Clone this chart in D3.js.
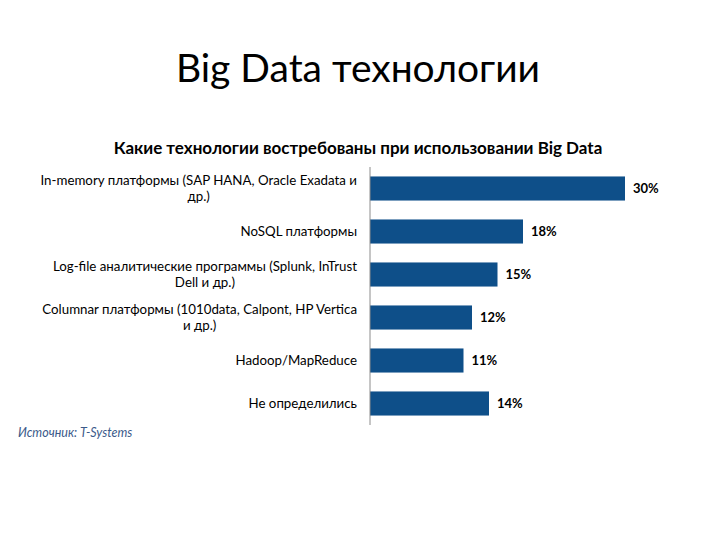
<!DOCTYPE html>
<html>
<head>
<meta charset="utf-8">
<script src="https://cdn.jsdelivr.net/npm/d3@7"></script>
<style>
  body { margin: 0; background: #fff; }
  svg { display: block; }
</style>
</head>
<body>
<svg id="drawing_region"></svg>
<script>
// data
const categories = [
    'In-memory платформы (SAP HANA, Oracle Exadata и\nдр.)',
    'NoSQL платформы',
    'Log-file аналитические программы (Splunk, InTrust\nDell и др.)',
    'Columnar платформы (1010data, Calpont, HP Vertica\nи др.)',
    'Hadoop/MapReduce',
    'Не определились'
];
const values = [30, 18, 15, 12, 11, 14];
const pageTitle = 'Big Data технологии';
const chartTitle = 'Какие технологии востребованы при использовании Big Data';
const sourceNote = 'Источник: T-Systems';

const config = {
    width: 720,
    height: 540,
    axisX: 370,
    top: 167,
    bottom: 425,
    pxPerUnit: 8.5,
    barColor: '#0e4f89',
    font: 'Lato, "Open Sans", "Noto Sans", sans-serif'
};

const svg = d3.select('#drawing_region')
    .attr('width', config.width)
    .attr('height', config.height)
    .style('font-family', config.font);

const xscale = d3.scaleLinear()
    .domain([0, 1])
    .range([config.axisX, config.axisX + config.pxPerUnit]);

const yscale = d3.scaleBand()
    .domain(categories)
    .range([config.top, config.bottom])
    .paddingInner(0.44)
    .paddingOuter(0.22);

// page title
svg.append('text')
    .attr('x', 358)
    .attr('y', 82)
    .attr('text-anchor', 'middle')
    .attr('font-size', '39px')
    .attr('fill', '#000')
    .text(pageTitle);

// chart title
svg.append('text')
    .attr('x', 358)
    .attr('y', 154)
    .attr('text-anchor', 'middle')
    .attr('font-size', '17px')
    .attr('font-weight', 'bold')
    .attr('fill', '#000')
    .text(chartTitle);

// bars
svg.append('g').selectAll('rect')
    .data(values)
    .join('rect')
    .attr('x', xscale(0))
    .attr('y', (d, i) => yscale(categories[i]))
    .attr('width', d => xscale(d) - xscale(0))
    .attr('height', yscale.bandwidth())
    .attr('fill', config.barColor);

// value labels
svg.append('g').selectAll('text')
    .data(values)
    .join('text')
    .attr('x', d => xscale(d) + 8)
    .attr('y', (d, i) => yscale(categories[i]) + yscale.bandwidth() / 2)
    .attr('dy', '0.35em')
    .attr('font-size', '13px')
    .attr('font-weight', 'bold')
    .attr('fill', '#000')
    .text(d => d + '%');

// axis line
svg.append('line')
    .attr('x1', config.axisX).attr('x2', config.axisX)
    .attr('y1', config.top).attr('y2', config.bottom)
    .attr('stroke', '#8c8c8c')
    .attr('stroke-width', 1);

// category labels (wrapped lines centered on the widest one, right edge at axis)
const labelRight = 357;
const lineH = 16;
const labels = svg.append('g')
    .attr('font-size', '13.3px')
    .attr('fill', '#000');

categories.forEach(c => {
    const lines = c.split('\n');
    const cy = yscale(c) + yscale.bandwidth() / 2;
    const t = labels.append('text')
        .attr('text-anchor', 'middle');
    lines.forEach((l, j) => {
        t.append('tspan')
            .attr('y', cy + (j - (lines.length - 1) / 2) * lineH)
            .attr('dy', '0.35em')
            .text(l);
    });
    // measure widest line, then place center
    let maxW = 0;
    t.selectAll('tspan').each(function() {
        maxW = Math.max(maxW, this.getComputedTextLength());
    });
    t.selectAll('tspan').attr('x', labelRight - maxW / 2);
});

// source
svg.append('text')
    .attr('x', 18)
    .attr('y', 437)
    .attr('font-size', '12.5px')
    .attr('font-style', 'italic')
    .attr('fill', '#3b5a8a')
    .text(sourceNote);
</script>
</body>
</html>
